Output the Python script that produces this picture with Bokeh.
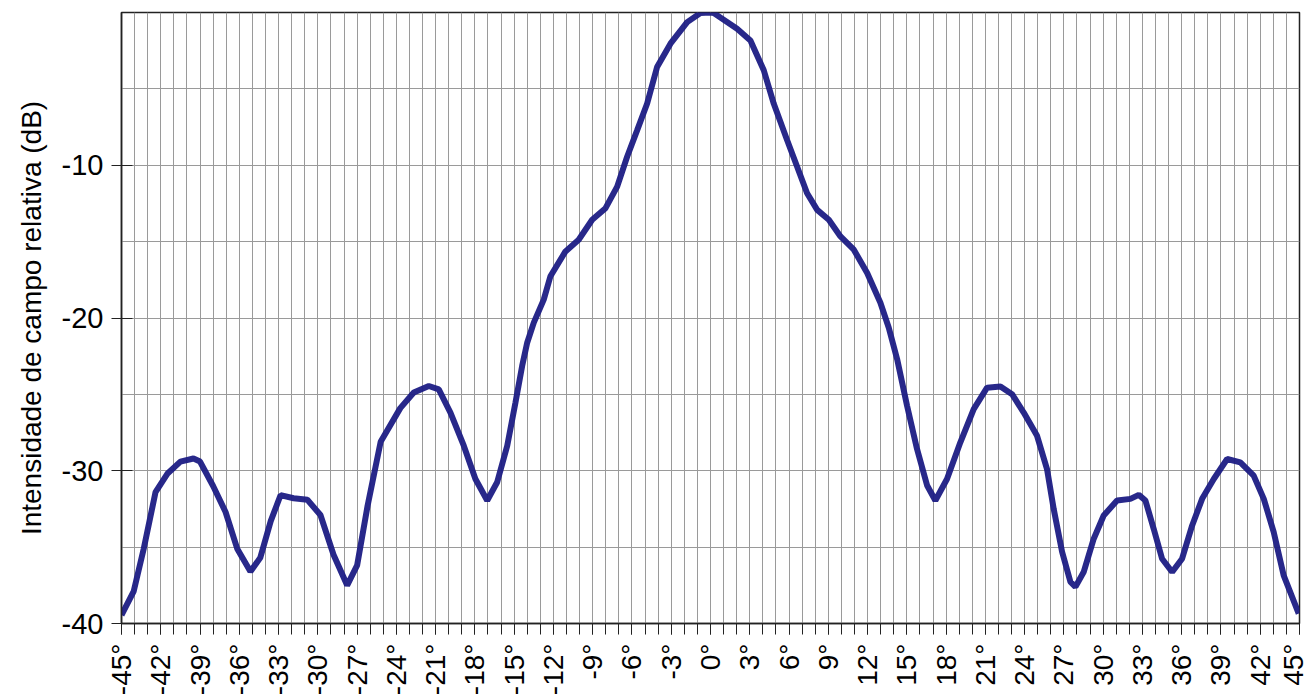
import math
from bokeh.plotting import figure
from bokeh.models import FixedTicker, Range1d
from bokeh.embed import file_html
from bokeh.resources import INLINE

angles = [-45, -44.07, -43.3, -42.4, -41.5, -40.5, -39.5, -39.0, -38.0, -37.05,
          -36.16, -35.15, -34.4, -33.6, -32.85, -31.85, -30.8, -29.8, -28.8, -27.76,
          -27.0, -26.2, -25.2, -23.7, -22.67, -21.52, -20.76, -19.87, -18.85, -17.96,
          -17.06, -16.3, -15.53, -14.9, -14.39, -14.0, -13.5, -12.74, -12.23, -11.08,
          -10.07, -9.04, -8.02, -7.13, -6.37, -5.6, -4.84, -4.08, -3.06, -1.78,
          -0.77, 0, 0.25, 2.03, 3.05, 4.07, 4.83, 5.85, 6.62, 7.38,
          8.15, 9.04, 9.93, 10.95, 11.97, 12.98, 13.62, 14.26, 15.02, 15.78,
          16.55, 17.18, 18.07, 19.09, 20.11, 21.13, 22.15, 23.04, 23.93, 24.95,
          25.71, 26.22, 26.86, 27.5, 27.88, 28.51, 29.28, 30.04, 31.06, 32.08,
          32.72, 33.23, 33.86, 34.5, 35.27, 36.03, 36.8, 37.56, 38.45, 39.47,
          40.48, 41.5, 42.27, 43.03, 43.79, 44.94]
intensity_db = [-39.45, -37.9, -35.1, -31.4, -30.2, -29.4, -29.2, -29.4, -31.0, -32.7,
                -35.1, -36.6, -35.7, -33.3, -31.6, -31.8, -31.9, -32.9, -35.5, -37.5,
                -36.2, -32.3, -28.1, -25.9, -24.88, -24.45, -24.67, -26.19, -28.36, -30.54,
                -31.95, -30.75, -28.36, -25.53, -23.14, -21.6, -20.3, -18.8, -17.27, -15.64,
                -14.88, -13.57, -12.81, -11.4, -9.44, -7.7, -5.96, -3.57, -2.04, -0.63,
                -0.04, 0.0, -0.04, -1.07, -1.83, -3.78, -5.96, -8.35, -10.1, -11.83,
                -12.92, -13.57, -14.66, -15.53, -17.05, -19.0, -20.64, -22.7, -25.75, -28.58,
                -30.97, -31.95, -30.54, -28.14, -25.97, -24.56, -24.49, -24.99, -26.19, -27.71,
                -29.89, -32.5, -35.3, -37.28, -37.6, -36.63, -34.45, -32.93, -31.95, -31.84,
                -31.58, -31.95, -33.8, -35.76, -36.63, -35.76, -33.58, -31.84, -30.54, -29.23,
                -29.45, -30.32, -31.84, -34.02, -36.85, -39.35]

x_major_ticks = list(range(-45, 46, 3))
x_minor_ticks = list(range(-45, 46, 1))
y_major_ticks = [-40, -30, -20, -10]
y_grid_ticks = list(range(-40, 1, 5))
y_label = "Intensidade de campo relativa (dB)"

FONT = "Liberation Sans"

p = figure(width=1308, height=698, output_backend="svg", toolbar_location=None,
           x_range=Range1d(-45, 45), y_range=Range1d(-40, 0),
           min_border_left=121, min_border_right=9, min_border_top=12, min_border_bottom=73)
p.background_fill_color = "white"
p.border_fill_color = "white"
p.outline_line_color = "#222222"
p.outline_line_width = 1.5

p.line(angles, intensity_db, line_color="#1c1c84", line_width=6, line_alpha=0.95)

# x axis
p.xaxis.ticker = FixedTicker(ticks=x_major_ticks, minor_ticks=x_minor_ticks)
p.xaxis.major_label_overrides = {t: f"{t}°" for t in x_major_ticks}
p.xaxis.major_label_orientation = math.pi / 2
p.xaxis.major_label_text_font = FONT
p.xaxis.major_label_text_font_size = "28px"
p.xaxis.major_label_text_color = "black"
p.xaxis.major_tick_in = 0
p.xaxis.major_tick_out = 11
p.xaxis.minor_tick_in = 0
p.xaxis.minor_tick_out = 11
p.xaxis.major_tick_line_color = "#222222"
p.xaxis.minor_tick_line_color = "#222222"
p.xaxis.axis_line_color = "#222222"
p.xaxis.axis_line_width = 1.5
p.xaxis.major_label_standoff = 9

# y axis
p.yaxis.ticker = FixedTicker(ticks=y_major_ticks, minor_ticks=[])
p.yaxis.major_label_overrides = {t: f"{t}" for t in y_major_ticks}
p.yaxis.major_label_text_font = FONT
p.yaxis.major_label_text_font_size = "29px"
p.yaxis.major_label_text_color = "black"
p.yaxis.major_tick_in = 11
p.yaxis.major_tick_out = 10
p.yaxis.major_tick_line_color = "#222222"
p.yaxis.axis_line_color = "#222222"
p.yaxis.axis_line_width = 1.5
p.yaxis.major_label_standoff = 8
p.yaxis.axis_label = y_label
p.yaxis.axis_label_text_font = FONT
p.yaxis.axis_label_text_font_size = "28px"
p.yaxis.axis_label_text_font_style = "normal"
p.yaxis.axis_label_text_color = "black"
p.yaxis.axis_label_standoff = 12

# grids
p.xgrid.ticker = FixedTicker(ticks=x_minor_ticks)
p.xgrid.grid_line_color = "#9a9a9a"
p.xgrid.grid_line_width = 1
p.ygrid.ticker = FixedTicker(ticks=y_grid_ticks)
p.ygrid.grid_line_color = "#9a9a9a"
p.ygrid.grid_line_width = 1

open("out.html", "w").write(file_html(p, INLINE))
